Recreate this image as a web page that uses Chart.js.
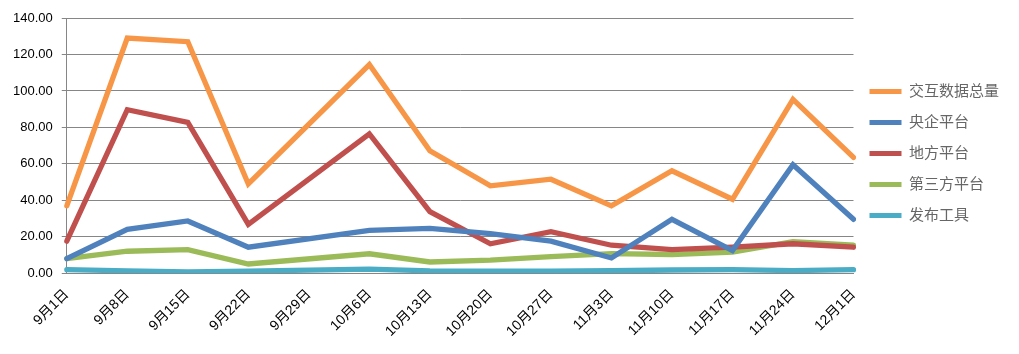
<!DOCTYPE html>
<html><head><meta charset="utf-8">
<script src="https://cdn.jsdelivr.net/npm/chart.js@4/dist/chart.umd.min.js"></script>
<style>html,body{margin:0;padding:0;background:#fff}#wrap{width:1019px;height:354px}</style>
</head><body><div id="wrap"><canvas id="c" width="1019" height="354"></canvas></div>
<script>
const categories = ["9月1日","9月8日","9月15日","9月22日","9月29日","10月6日","10月13日","10月20日","10月27日","11月3日","11月10日","11月17日","11月24日","12月1日"];
const seriesNames = ["交互数据总量","央企平台","地方平台","第三方平台","发布工具"];
const totalValues   = [37, 129, 127, 49, null, 114.5, 67.2, 48, 51.6, 37, 56.2, 40.6, 95.4, 63.6];
const centralValues = [8, 24.1, 28.7, 14.3, null, 23.5, 24.6, 21.7, 17.6, 8.4, 29.6, 12.5, 59.5, 29.6];
const localValues   = [17.6, 89.7, 82.8, 26.8, null, 76.4, 33.8, 16.2, 22.8, 15.4, 13.0, 14.3, 16.2, 14.3];
const thirdValues   = [8, 12.1, 13.0, 5.1, null, 10.7, 6.2, 7.2, 9.2, 10.8, 10.3, 11.6, 17.3, 15.4];
const toolValues    = [2.0, 1.3, 0.8, 1.2, null, 2.3, 1.3, 1.2, 1.2, 1.4, 1.8, 2.0, 1.5, 2.0];
const yTicks = [0,20,40,60,80,100,120,140];

const colors = ["#F79646","#4F81BD","#C0504D","#9BBB59","#4BACC6"];
const allValues = [totalValues, centralValues, localValues, thirdValues, toolValues];
const font = "'Liberation Sans','Noto Sans CJK SC',sans-serif";

new Chart(document.getElementById('c'), {
  type: 'line',
  data: {
    labels: categories,
    datasets: seriesNames.map((n,i)=>({
      label: n, data: allValues[i], borderColor: colors[i], backgroundColor: colors[i],
      borderWidth: 5.3, pointRadius: 0, spanGaps: true, tension: 0, borderCapStyle: 'round', borderJoinStyle: 'miter'
    }))
  },
  options: {
    responsive: false, animation: false,
    layout: { padding: { left: 4, right: 10, top: 18, bottom: 6 } },
    plugins: {
      tooltip: { enabled: false },
      legend: {
        position: 'right',
        align: 'start',
        title: { display: true, text: ' ', font: { size: 10 }, padding: { top: 38, bottom: 0 } },
        labels: {
          boxWidth: 32, boxHeight: 5, padding: 16, color: '#000',
          font: { family: font, size: 15 },
          generateLabels: (chart) => chart.data.datasets.map((d,i)=>({
            text: d.label, fillStyle: d.borderColor, strokeStyle: d.borderColor, lineWidth: 0, datasetIndex: i
          }))
        }
      }
    },
    scales: {
      x: {
        offset: false,
        grid: { display: false, drawOnChartArea: false, drawTicks: true, tickLength: 5, tickColor: '#868686' },
        border: { color: '#868686', width: 1 },
        ticks: { maxRotation: 45, minRotation: 45, autoSkip: false, color: '#000', font: { family: font, size: 14 }, padding: 8 }
      },
      y: {
        min: 0, max: 140,
        afterBuildTicks: (ax) => { ax.ticks = yTicks.map(v=>({value:v})); },
        grid: { color: '#868686', lineWidth: 1, tickLength: 5, tickColor: '#868686' },
        border: { color: '#868686', width: 1 },
        ticks: { color: '#000', font: { family: font, size: 13 }, padding: 9, callback: (v)=>Number(v).toFixed(2) }
      }
    }
  }
});
</script></body></html>
